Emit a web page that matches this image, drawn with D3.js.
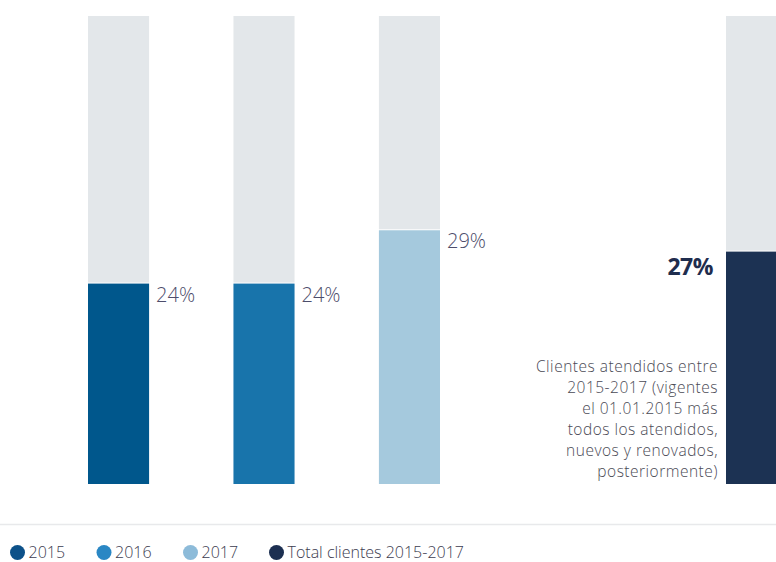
<!DOCTYPE html>
<html><head><meta charset="utf-8">
<script src="https://cdn.jsdelivr.net/npm/d3@7"></script>
<style>
html,body{margin:0;padding:0;background:#fff;overflow:hidden;}
svg{display:block;font-family:"Open Sans", Lato, sans-serif;}
</style></head>
<body><svg id="c" width="776" height="562"></svg>
<script>
const years = ["2015", "2016", "2017"];
const yearValues = [24, 24, 29];
const totalCategory = ["Total clientes 2015-2017"];
const totalValues = [27];
const valueLabels = ["24%", "24%", "29%"];
const totalLabel = ["27%"];
const colors = ["#00578c", "#1874ab", "#a5c9dd"];
const totalColor = "#1c3253";
const legendLabels = ["2015", "2016", "2017", "Total clientes 2015-2017"];
const legendColors = ["#0d5189", "#2a87c4", "#8dbbd9", "#1c2f51"];
const noteLines = ["Clientes atendidos entre", "2015-2017 (vigentes", "el 01.01.2015 más", "todos los atendidos,", "nuevos y renovados,", "posteriormente)"];

const svg = d3.select("#c");
const plotBottom = 484, plotTop = 16;
const y = d3.scaleLinear().domain([5.2, 49.1]).range([plotBottom, plotTop]);
const x = d3.scaleBand().domain(years).range([88, 440]).paddingInner(0.58);
const xt = d3.scaleBand().domain(totalCategory).range([726, 787]);

const data = years.map((k, i) => ({k, v: yearValues[i], c: colors[i], l: valueLabels[i]}));
const bg = "#e3e7ea";

svg.selectAll("rect.bg").data(data).join("rect").attr("class","bg")
  .attr("x", d => x(d.k)).attr("width", x.bandwidth())
  .attr("y", plotTop).attr("height", d => y(d.v) - plotTop - 1).attr("fill", bg);
svg.selectAll("rect.fg").data(data).join("rect").attr("class","fg")
  .attr("x", d => x(d.k)).attr("width", x.bandwidth())
  .attr("y", d => y(d.v)).attr("height", d => plotBottom - y(d.v)).attr("fill", d => d.c);
svg.selectAll("text.val").data(data).join("text").attr("class","val")
  .attr("x", d => x(d.k) + x.bandwidth() + 7).attr("y", d => y(d.v) + 18)
  .attr("font-size", 20).attr("font-weight", 300).attr("fill", "#4d4d6b")
  .text(d => d.l);

const tot = totalCategory.map((k, i) => ({k, v: totalValues[i], l: totalLabel[i]}));
svg.selectAll("rect.tbg").data(tot).join("rect").attr("class","tbg")
  .attr("x", d => xt(d.k)).attr("width", xt.bandwidth())
  .attr("y", plotTop).attr("height", d => y(d.v) - plotTop - 1).attr("fill", bg);
svg.selectAll("rect.tfg").data(tot).join("rect").attr("class","tfg")
  .attr("x", d => xt(d.k)).attr("width", xt.bandwidth())
  .attr("y", d => y(d.v)).attr("height", d => plotBottom - y(d.v)).attr("fill", totalColor);
svg.selectAll("text.tval").data(tot).join("text").attr("class","tval")
  .attr("x", d => xt(d.k) - 13).attr("y", d => y(d.v) + 23)
  .attr("text-anchor", "end").attr("font-size", 23).attr("font-weight", 700).attr("fill", "#1f2d4e")
  .attr("letter-spacing", "-0.5")
  .text(d => d.l);

svg.append("g").selectAll("text").data(noteLines).join("text")
  .attr("x", xt(totalCategory[0]) - 8).attr("y", (d, i) => 372 + i * 21)
  .attr("text-anchor", "end").attr("font-size", 15.5).attr("font-weight", 300)
  .attr("fill", "#4a4a55").attr("letter-spacing", "0.5")
  .text(d => d);

svg.append("line").attr("x1", 0).attr("x2", 776).attr("y1", 524.5).attr("y2", 524.5)
  .attr("stroke", "#e8e9eb").attr("stroke-width", 1.5);

const legX = [17.5, 104, 190.5, 276.5];
const lg = svg.append("g").selectAll("g").data(legendLabels).join("g")
  .attr("transform", (d, i) => `translate(${legX[i]},552.5)`);
lg.append("circle").attr("r", 7.5).attr("fill", (d, i) => legendColors[i]);
lg.append("text").attr("x", 11).attr("y", 5.5).attr("font-size", 16).attr("font-weight", 300)
  .attr("fill", "#3c3c50").attr("letter-spacing", "0").text(d => d);
</script></body></html>
